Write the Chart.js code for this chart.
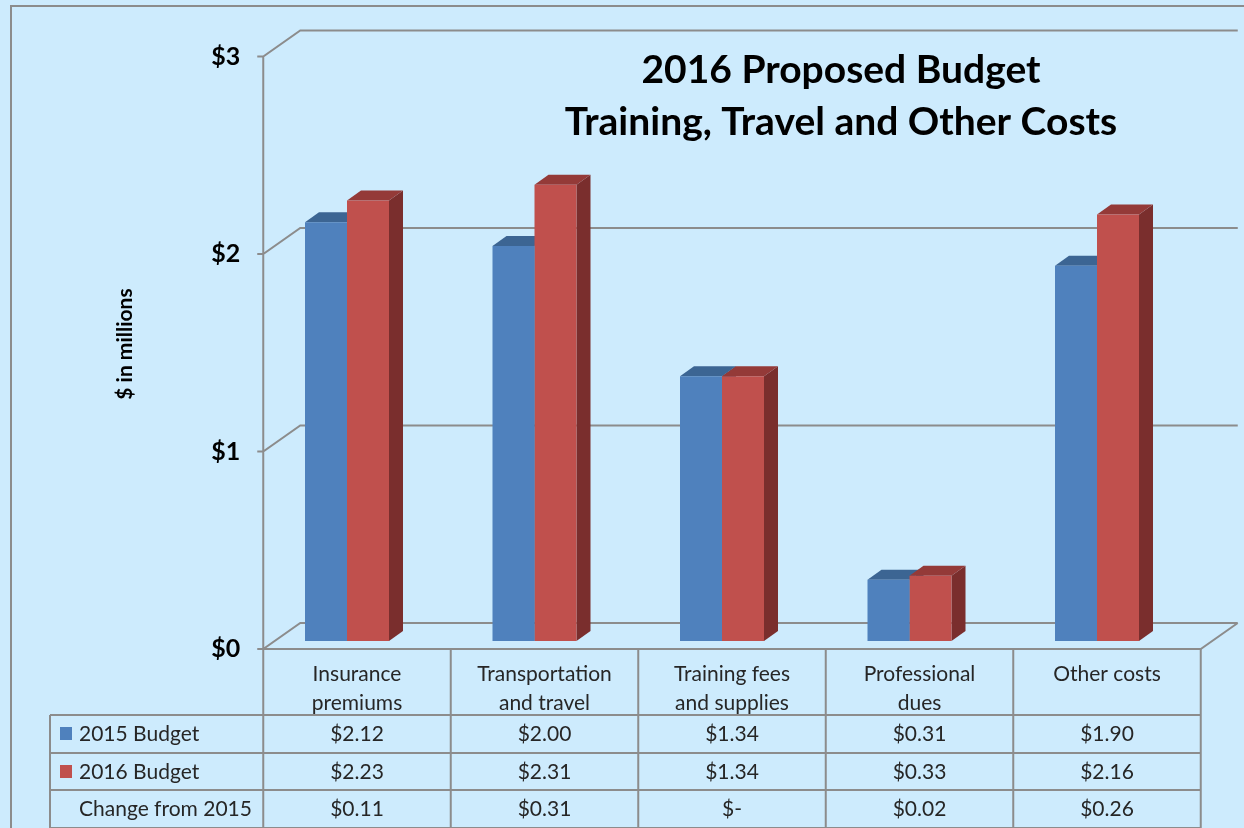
<!DOCTYPE html>
<html>
<head>
<meta charset="utf-8">
<script src="https://cdn.jsdelivr.net/npm/chart.js@4/dist/chart.umd.min.js"></script>
<style>
  body { margin: 0; background: #cdebfd; }
  canvas { display: block; }
</style>
</head>
<body>
<canvas id="budgetChart" width="1244" height="828"></canvas>
<script>
const categorias = [['Insurance', 'premiums'], ['Transportation', 'and travel'], ['Training fees', 'and supplies'], ['Professional', 'dues'], ['Other costs']];
const budget2015 = [2.12, 2.00, 1.34, 0.31, 1.90];
const budget2016 = [2.23, 2.31, 1.34, 0.33, 2.16];
const mudanca = [0.11, 0.31, 0, 0.02, 0.26];
const yTicks = [0, 1, 2, 3];
const yTickLabels = ['$0', '$1', '$2', '$3'];
const seriesNames = ['2015 Budget', '2016 Budget', 'Change from 2015'];

const FONT = 'Lato, "Open Sans", sans-serif';
const GRID = '#8c8c8c';

function fmt(v) {
    return v === 0 ? '$-' : '$' + v.toFixed(2);
}

// desenha o "caixa 3D" (paredes, chao, eixo) e a tabela de dados
const framePlugin = {
    id: 'frame3d',
    beforeDraw(chart) {
        const ctx = chart.ctx;
        ctx.save();
        ctx.fillStyle = '#cdebfd';
        ctx.fillRect(0, 0, chart.width, chart.height);
        ctx.strokeStyle = GRID;
        ctx.lineWidth = 2;
        ctx.strokeRect(11, 6, chart.width + 20, chart.height + 20);
        ctx.restore();
    },
    beforeDatasetsDraw(chart) {
        const ctx = chart.ctx;
        const y = chart.scales.y;
        const area = chart.chartArea;
        const fx = area.left + 10;
        const fr = fx + area.width;
        const bx = fx + 37, br = fr + 37;
        const front = v => y.getPixelForValue(v) + 8;
        const back = v => y.getPixelForValue(v) - 18;

        ctx.save();
        ctx.strokeStyle = GRID;
        ctx.lineWidth = 2;
        ctx.beginPath();
        yTicks.forEach(t => {
            ctx.moveTo(fx - 6, front(t));
            ctx.lineTo(fx, front(t));
            ctx.lineTo(bx, back(t));
            ctx.lineTo(br, back(t));
        });
        // chao
        ctx.moveTo(fx, front(0));
        ctx.lineTo(fr, front(0));
        ctx.lineTo(br, back(0));
        // eixo vertical continua pela tabela
        ctx.moveTo(fx, front(3));
        ctx.lineTo(fx, chart.height);
        ctx.stroke();

        ctx.fillStyle = '#000';
        ctx.font = 'bold 25px ' + FONT;
        ctx.textAlign = 'right';
        ctx.textBaseline = 'middle';
        yTicks.forEach((t, i) => ctx.fillText(yTickLabels[i], fx - 23, front(t)));

        // titulo do eixo
        ctx.save();
        ctx.translate(125, 344);
        ctx.rotate(-Math.PI / 2);
        ctx.textAlign = 'center';
        ctx.font = 'bold 21px ' + FONT;
        ctx.fillText('$ in millions', 0, 0);
        ctx.restore();

        // titulo
        ctx.textAlign = 'center';
        ctx.font = 'bold 39px ' + FONT;
        ctx.fillText('2016 Proposed Budget', 841, 70);
        ctx.fillText('Training, Travel and Other Costs', 841, 122);

        // tabela
        const top = front(0);
        const rows = [715, 753, 790, 828];
        const colW = area.width / categorias.length;
        ctx.beginPath();
        for (let i = 1; i <= categorias.length; i++) {
            ctx.moveTo(fx + i * colW, top);
            ctx.lineTo(fx + i * colW, chart.height);
        }
        rows.forEach(r => {
            ctx.moveTo(50, r);
            ctx.lineTo(fr, r);
        });
        ctx.moveTo(50, rows[0]);
        ctx.lineTo(50, chart.height);
        ctx.stroke();

        ctx.fillStyle = '#262626';
        ctx.font = '21px ' + FONT;
        categorias.forEach((c, i) => {
            const cx = fx + (i + 0.5) * colW;
            c.forEach((linha, j) => ctx.fillText(linha, cx, 674 + j * 29));
            ctx.fillText(fmt(budget2015[i]), cx, 734);
            ctx.fillText(fmt(budget2016[i]), cx, 772);
            ctx.fillText(fmt(mudanca[i]), cx, 809);
        });
        ctx.textAlign = 'left';
        ctx.fillText(seriesNames[0], 79, 734);
        ctx.fillText(seriesNames[1], 79, 772);
        ctx.fillText(seriesNames[2], 79, 809);
        ctx.fillStyle = '#4f81bd';
        ctx.fillRect(60, 727, 12, 13);
        ctx.fillStyle = '#c0504d';
        ctx.fillRect(60, 765, 12, 13);
        ctx.restore();
    }
};

// faces de cima e do lado das barras
const DX = 14, DY = -10;
const faces = [
    { top: '#3c6593', side: '#2f4f75' },
    { top: '#943a38', side: '#7a2e2d' }
];
const barras3d = {
    id: 'barras3d',
    beforeDatasetsDraw(chart) {
        const ctx = chart.ctx;
        ctx.save();
        chart.data.labels.forEach((_, i) => {
            chart.data.datasets.forEach((ds, d) => {
                const bar = chart.getDatasetMeta(d).data[i];
                const l = bar.x - bar.width / 2, r = bar.x + bar.width / 2;
                ctx.fillStyle = faces[d].side;
                ctx.beginPath();
                ctx.moveTo(r, bar.y);
                ctx.lineTo(r + DX, bar.y + DY);
                ctx.lineTo(r + DX, bar.base + DY);
                ctx.lineTo(r, bar.base);
                ctx.closePath();
                ctx.fill();
                ctx.fillStyle = faces[d].top;
                ctx.beginPath();
                ctx.moveTo(l, bar.y);
                ctx.lineTo(l + DX, bar.y + DY);
                ctx.lineTo(r + DX, bar.y + DY);
                ctx.lineTo(r, bar.y);
                ctx.closePath();
                ctx.fill();
            });
        });
        ctx.restore();
    }
};

new Chart(document.getElementById('budgetChart'), {
    type: 'bar',
    data: {
        labels: categorias,
        datasets: [
            { label: seriesNames[0], data: budget2015, backgroundColor: '#4f81bd' },
            { label: seriesNames[1], data: budget2016, backgroundColor: '#c0504d' }
        ]
    },
    options: {
        responsive: false,
        animation: false,
        events: [],
        layout: { padding: { left: 253.25, right: 53.25, top: 48.5, bottom: 187 } },
        categoryPercentage: 0.448,
        barPercentage: 1,
        plugins: { legend: { display: false }, title: { display: false }, tooltip: { enabled: false } },
        scales: {
            x: { display: false, offset: true },
            y: { display: false, min: 0, max: 3 }
        }
    },
    plugins: [framePlugin, barras3d]
});
</script>
</body>
</html>
